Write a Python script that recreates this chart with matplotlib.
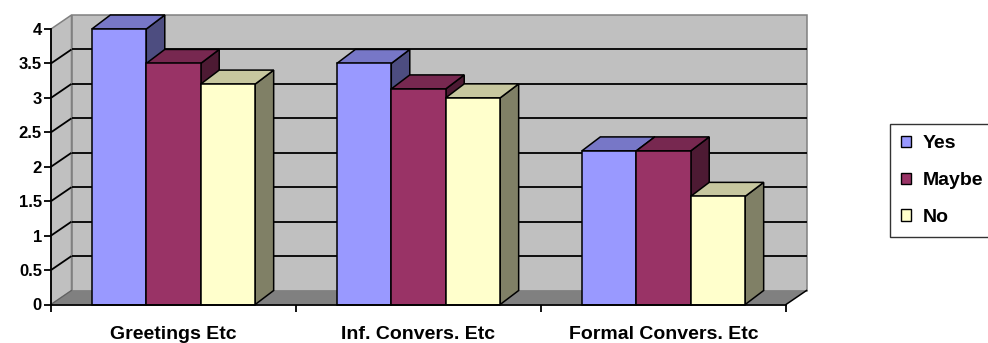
"""
3D-style clustered column chart: Yes / Maybe / No per conversation type
"""
import numpy as np
import matplotlib
matplotlib.use("Agg")
import matplotlib.pyplot as plt
from matplotlib.patches import Polygon, Patch
from matplotlib.ticker import FuncFormatter, MultipleLocator, FixedLocator, NullFormatter

categories = ["Greetings Etc", "Inf. Convers. Etc", "Formal Convers. Etc"]
series_names = ["Yes", "Maybe", "No"]
yes_vals = [4.0, 3.5, 2.23]
maybe_vals = [3.5, 3.13, 2.23]
no_vals = [3.2, 3.0, 1.57]
series_colors = ["#9999FF", "#993366", "#FFFFCC"]

Y_MAX = 4.0
Y_STEP = 0.5

plt.rcParams["font.family"] = ["Liberation Sans", "DejaVu Sans"]
plt.rcParams["font.weight"] = "bold"

fig = plt.figure(figsize=(9.88, 3.43), dpi=100)
# front plane of the plot area, in pixels
left_px, right_px, bottom_px, top_px = 51, 786, 304.5, 29
ax = fig.add_axes([left_px / 988, (343 - bottom_px) / 343,
                   (right_px - left_px) / 988, (bottom_px - top_px) / 343])
n_cat = len(categories)
ax.set_xlim(0, n_cat)
ax.set_ylim(0, Y_MAX)
ax.patch.set_visible(False)

# depth offsets (data units) for walls and bars
px_per_cat = (right_px - left_px) / n_cat
px_per_val = (bottom_px - top_px) / Y_MAX
DX = 20.5 / px_per_cat
DY = 14.0 / px_per_val
BDX = 18.5 / px_per_cat
BDY = 14.0 / px_per_val

wall_edge = "#808080"

# back wall
ax.add_patch(Polygon([(DX, DY), (n_cat + DX, DY), (n_cat + DX, Y_MAX + DY), (DX, Y_MAX + DY)],
                     closed=True, facecolor="#C0C0C0", edgecolor=wall_edge, lw=1.1,
                     clip_on=False, zorder=0.5))
# side wall
ax.add_patch(Polygon([(0, 0), (DX, DY), (DX, Y_MAX + DY), (0, Y_MAX)],
                     closed=True, facecolor="#C0C0C0", edgecolor=wall_edge, lw=1.1,
                     clip_on=False, zorder=0.5))
# floor
ax.add_patch(Polygon([(0, 0), (n_cat, 0), (n_cat + DX, DY), (DX, DY)],
                     closed=True, facecolor="#808080", edgecolor="none",
                     clip_on=False, zorder=0.6))
ax.plot([n_cat, n_cat + DX], [0, DY], color="black", lw=1.1, clip_on=False, zorder=0.7)
ax.plot([0, DX], [0, DY], color="#606060", lw=0.8, clip_on=False, zorder=0.7)

# gridlines on back and side walls
for v in np.arange(Y_STEP, Y_MAX, Y_STEP):
    ax.plot([DX, n_cat + DX], [v + DY, v + DY], color="black", lw=1.3,
            clip_on=False, zorder=0.8, solid_capstyle="butt")
    ax.plot([0, DX], [v, v + DY], color="black", lw=1.3,
            clip_on=False, zorder=0.8, solid_capstyle="butt")


def shade(color, f):
    rgb = np.array(matplotlib.colors.to_rgb(color))
    return tuple(rgb * f)


def draw_bar(x0, w, h, color, z):
    side = [(x0 + w, 0), (x0 + w + BDX, BDY), (x0 + w + BDX, h + BDY), (x0 + w, h)]
    top = [(x0, h), (x0 + w, h), (x0 + w + BDX, h + BDY), (x0 + BDX, h + BDY)]
    front = [(x0, 0), (x0 + w, 0), (x0 + w, h), (x0, h)]
    kw = dict(closed=True, edgecolor="black", lw=1.1, clip_on=False,
              joinstyle="miter", zorder=z)
    ax.add_patch(Polygon(side, facecolor=shade(color, 0.5), **kw))
    ax.add_patch(Polygon(top, facecolor=shade(color, 0.78), **kw))
    ax.add_patch(Polygon(front, facecolor=color, **kw))


# gap width 150%
bar_w = 1 / (len(series_names) + 1.5)
values = [yes_vals, maybe_vals, no_vals]
z = 1.0
for i in range(n_cat):
    for s, vals in enumerate(values):
        x0 = i + 0.75 * bar_w + s * bar_w
        draw_bar(x0, bar_w, vals[i], series_colors[s], z)
        z += 0.01

# axes
for side in ["top", "right"]:
    ax.spines[side].set_visible(False)
for side in ["left", "bottom"]:
    ax.spines[side].set_linewidth(1.3)
    ax.spines[side].set_zorder(5)

ax.yaxis.set_major_locator(MultipleLocator(Y_STEP))
ax.yaxis.set_major_formatter(FuncFormatter(lambda v, p: f"{v:g}"))
ax.tick_params(axis="y", direction="out", length=5, width=1.3, pad=1.5, labelsize=12)

ax.xaxis.set_major_locator(FixedLocator(np.arange(n_cat + 1)))
ax.xaxis.set_major_formatter(NullFormatter())
ax.xaxis.set_minor_locator(FixedLocator(np.arange(n_cat) + 0.5))
ax.set_xticklabels(categories, minor=True)
ax.tick_params(axis="x", which="major", direction="out", length=5, width=1.3)
ax.tick_params(axis="x", which="minor", length=0, pad=15.5, labelsize=14)

handles = [Patch(facecolor=c, edgecolor="black", lw=1.0) for c in series_colors]
leg = fig.legend(handles, series_names, loc="upper left",
                 bbox_to_anchor=(890 / 988, 1 - 124 / 343), borderaxespad=0,
                 fancybox=False, frameon=True, fontsize=14,
                 handlelength=0.5, handleheight=0.5, handletextpad=0.6,
                 labelspacing=1.02, borderpad=0.58)
leg.get_frame().set_edgecolor("black")
leg.get_frame().set_linewidth(1.0)

fig.savefig("out.png", dpi=100)
